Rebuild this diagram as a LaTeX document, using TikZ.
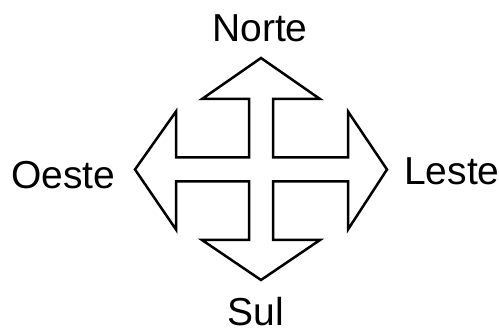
\documentclass[tikz,border=0pt]{standalone}
\usepackage{fontspec}
\setmainfont{Liberation Sans}
\begin{document}
\begin{tikzpicture}[
    x=1pt, y=-1pt,
    rosa/.style={draw=black, line width=2.5pt, line join=miter, fill=white},
    rotulo/.style={inner sep=0pt, font=\fontsize{39}{39}\selectfont},
]
\useasboundingbox (0,0) rectangle (499,331);

% cruz com as quatro setas
\draw[rosa] (261,58) -- (320,99) -- (273,99) -- (273,157.5) -- (348,157.5)
    -- (348,111.5) -- (387,169.5) -- (348,229.5) -- (348,181.5) -- (273,181.5)
    -- (273,240) -- (320,240) -- (261,280) -- (202,240) -- (249,240)
    -- (249,181.5) -- (176,181.5) -- (176,229.5) -- (135,169.5) -- (176,111.5)
    -- (176,157.5) -- (249,157.5) -- (249,99) -- (202,99) -- cycle;

\node[rotulo, anchor=base] (norte) at (260,41.7) {Norte};
\node[rotulo, anchor=base] (sul) at (256,325.3) {Sul};
\node[rotulo, anchor=base west] (oeste) at (11,188.3) {Oeste};
\node[rotulo, anchor=base west] (leste) at (404,184.3) {Leste};
\end{tikzpicture}
\end{document}
